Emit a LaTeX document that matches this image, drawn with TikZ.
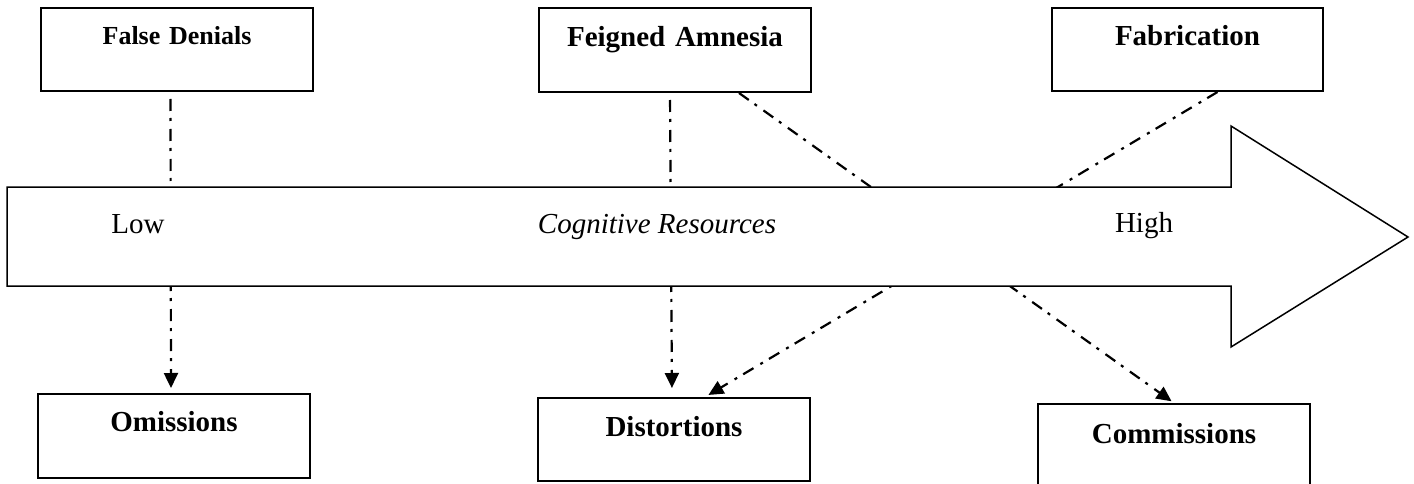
\documentclass[tikz,border=0pt]{standalone}
\usepackage{fontspec}
\setmainfont{Liberation Serif}
\usetikzlibrary{arrows.meta}
\tikzset{
  catbox/.style={draw, line width=2pt, inner sep=0pt, anchor=north west,
    align=center, font=\fontsize{29}{33}\selectfont\bfseries},
  dd/.style={line width=2.2pt, dash pattern=on 12pt off 7pt on 3pt off 8pt},
  tipped/.style={-{Triangle[width=14pt,length=15pt]}},
  bigarrow/.style={draw, line width=1.5pt, fill=white},
  scale label/.style={font=\fontsize{29}{33}\selectfont, anchor=base, inner sep=0pt},
}
\begin{document}
\begin{tikzpicture}[x=1pt,y=-1pt]
\useasboundingbox (0,0) rectangle (1414,484);
\clip (0,0) rectangle (1414,484);
% category boxes
\node[catbox, text width=272pt, text height=37pt, text depth=46pt,
      font=\fontsize{26}{30}\selectfont\bfseries] (FD) at (40,7) {False Denials};
\node[catbox, text width=272pt, text height=39pt, text depth=45pt] (FA) at (538,7) {Feigned Amnesia};
\node[catbox, text width=271pt, text height=38pt, text depth=45pt] (FB) at (1051,7) {Fabrication};
\node[catbox, text width=272pt, text height=37pt, text depth=47pt] (OM) at (37,393) {Omissions};
\node[catbox, text width=272pt, text height=38pt, text depth=45pt] (DI) at (537,397) {Distortions};
\node[catbox, text width=272pt, text height=39pt, text depth=70pt] (CO) at (1037,403) {Commissions};
% connectors (pass behind the big arrow)
\draw[dd, tipped, shorten <=7pt, shorten >=5pt] ([xshift=-6.5pt]FD.south) -- ([xshift=-3pt]OM.north);
\draw[dd, tipped, shorten <=7pt, shorten >=9pt] ([xshift=-5pt]FA.south) -- ([xshift=-2pt]DI.north);
\draw[dd, tipped, shorten >=3pt] ([xshift=64pt]FA.south) -- (CO.north);
\draw[dd, tipped, shorten >=4pt] ([xshift=30pt]FB.south) -- ([xshift=31pt]DI.north);
% big arrow
\path[bigarrow] (7,187) coordinate (AL) -- (1231,187) -- (1231,126) -- (1408,237) coordinate (AT)
  -- (1231,347) -- (1231,286) -- (7,286) -- cycle;
\node[scale label] (low) at (138,233) {Low};
\node[scale label, font=\fontsize{29}{33}\selectfont\itshape] (cr) at (657,233) {Cognitive Resources};
\node[scale label] (high) at (1144,232) {High};
\end{tikzpicture}
\end{document}
